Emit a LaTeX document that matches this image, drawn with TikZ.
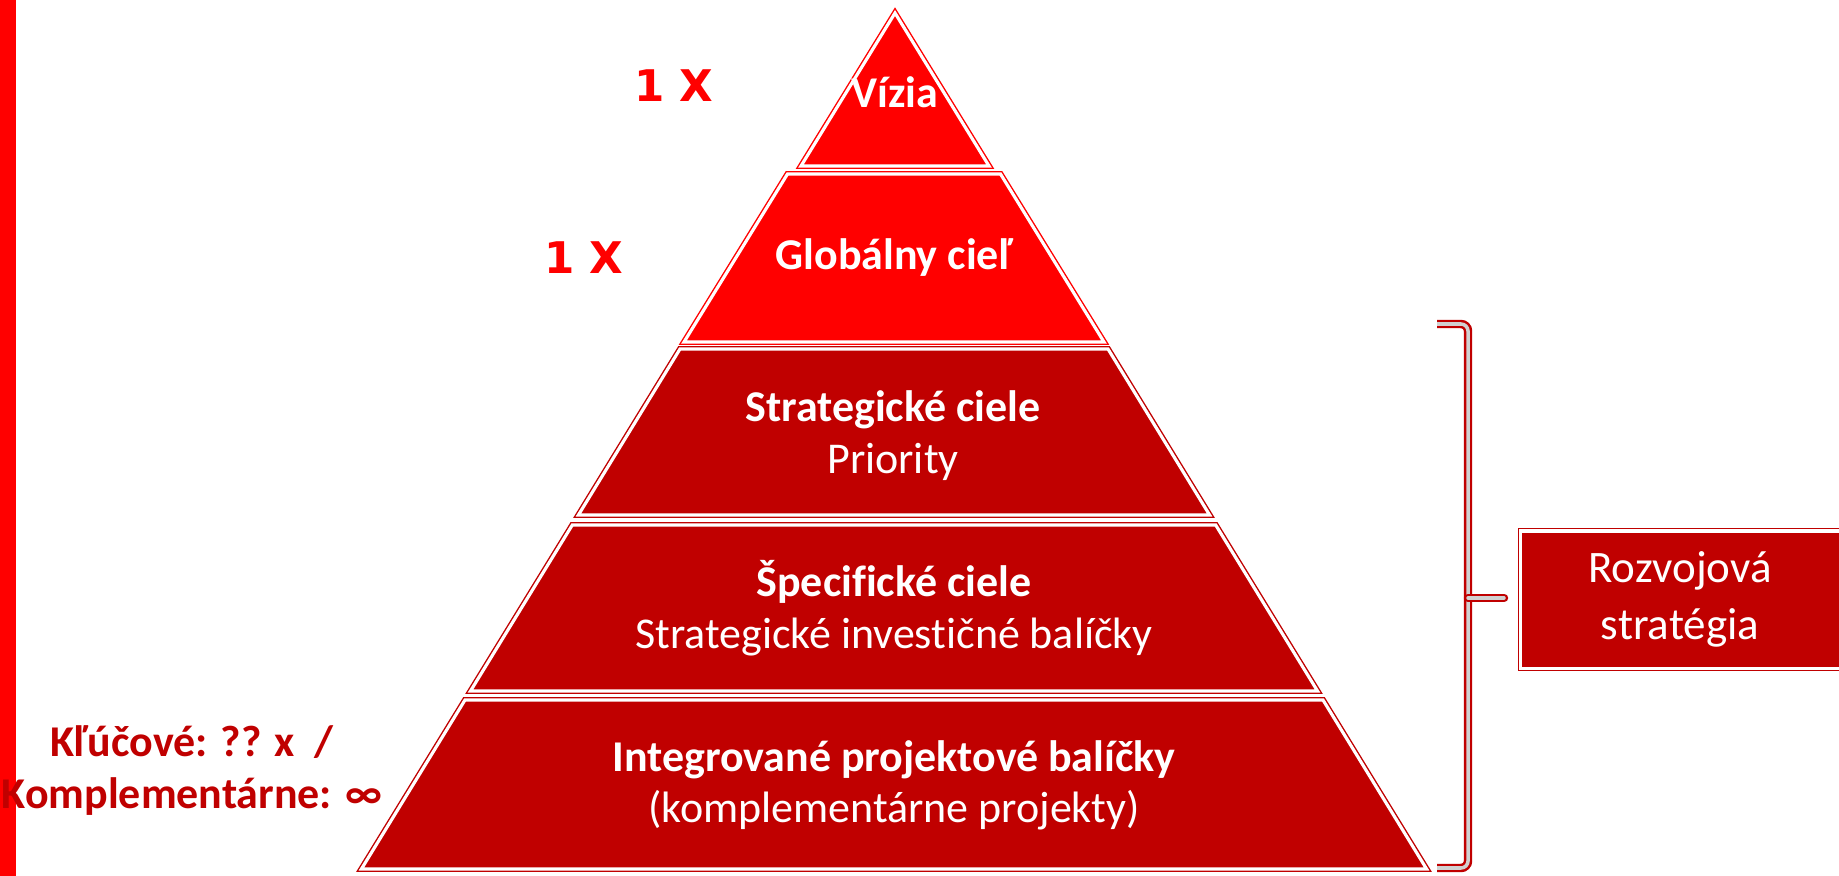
\documentclass[tikz,border=0pt]{standalone}
\usepackage{fontspec}
\setmainfont{Carlito}[Ligatures=NoCommon]
\newfontfamily\pocetfont{DejaVu Sans}
\definecolor{jasnacervena}{HTML}{FF0000}
\definecolor{tmavacervena}{HTML}{C00000}

\begin{document}
\begin{tikzpicture}[x=0.01cm, y=-0.01cm,
    vrstva/.style={draw=#1, fill=#1, line width=0.4pt, double=white, double distance=0.9pt},
    popis/.style={text=white, inner sep=0pt, anchor=base, align=center, font=\fontsize{12.5}{14.7}\selectfont},
    pocet/.style={text=jasnacervena, inner sep=0pt, anchor=base, font=\pocetfont\bfseries\fontsize{12.4}{14}\selectfont},
    zatvorka/.style={draw=tmavacervena, line width=0.7pt, double=black!18, double distance=1pt, rounded corners=2pt}]
    \useasboundingbox (0,0) rectangle (1839,876);

    % Define points
    \coordinate (brTop) at (1437,324);
    \coordinate (brBot) at (1437,868);
    \coordinate (brMid) at (1468,598);
    \coordinate (brTick) at (1504,598);

    % Pyramid layers
    \draw[vrstva=jasnacervena] (895,13) -- (989,166) -- (801,166) -- cycle;
    \draw[vrstva=jasnacervena] (787.5,174) -- (1000.5,174) -- (1104,342) -- (684,342) -- cycle;
    \draw[vrstva=tmavacervena] (680,349) -- (1108,349) -- (1209.6,515) -- (578.4,515) -- cycle;
    \draw[vrstva=tmavacervena] (572.3,525) -- (1215.7,525) -- (1317.5,691) -- (470.5,691) -- cycle;
    \draw[vrstva=tmavacervena] (465,700) -- (1323,700) -- (1426.6,869) -- (361.4,869) -- cycle;

    % Left bar
    \fill[jasnacervena] (0,0) rectangle (16,876);

    % Layer texts (anchored at the last line)
    \node[popis, font=\bfseries\fontsize{12.5}{14.7}\selectfont] (vizia) at (895,108) {Vízia};
    \node[popis, font=\bfseries\fontsize{12.5}{14.7}\selectfont] (globalny) at (894,270) {Globálny cieľ};
    \node[popis] (strategicke) at (893,473.3) {\textbf{Strategické ciele}\\Priority};
    \node[popis] (specificke) at (894,648.3) {\textbf{Špecifické ciele}\\Strategické investičné balíčky};
    \node[popis] (integrovane) at (894,822.7) {\textbf{Integrované projektové balíčky}\\(komplementárne projekty)};

    % Counts on the left
    \node[pocet] (pocetVizia) at (674,101.7) {1 X};
    \node[pocet] (pocetCiel) at (584,273.3) {1 X};
    \node[text=tmavacervena, inner sep=0pt, anchor=base, align=center, font=\bfseries\fontsize{12.5}{14.6}\selectfont] (klucove) at (192,808) {Kľúčové: ?? x~~/\\Komplementárne: ∞};

    % Bracket and strategy box
    \draw[black!22, line width=2.2pt, rounded corners=2pt, shift={(2,3)}] (brTop) -| (brMid) |- (brBot);
    \draw[black!22, line width=2.2pt, line cap=round, shift={(2,3)}] (brMid) -- (brTick);
    \draw[zatvorka] (brTop) -| (brMid) |- (brBot);
    \draw[zatvorka, line cap=round] (brMid) -- (brTick);
    \draw[vrstva=tmavacervena] (1520.5,531) rectangle (1845,668.5);
    \node[popis, font=\fontsize{12.8}{16.2}\selectfont] (rozvojova) at (1680,639) {Rozvojová\\stratégia};
\end{tikzpicture}
\end{document}
